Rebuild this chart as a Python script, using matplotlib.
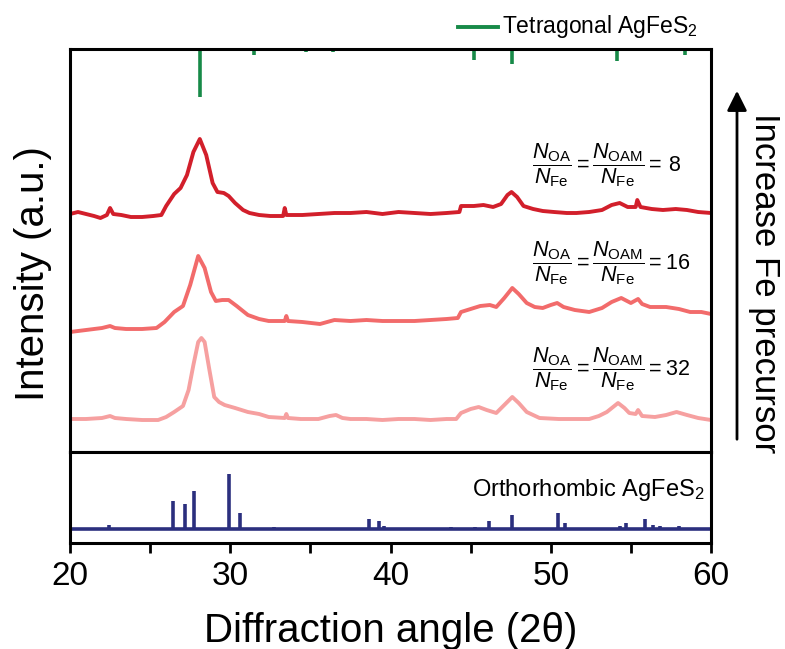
import matplotlib
matplotlib.use("Agg")
import matplotlib.pyplot as plt
from matplotlib.ticker import MultipleLocator
import numpy as np

plt.rcParams['font.family'] = ['Liberation Sans', 'DejaVu Sans']
plt.rcParams['mathtext.fontset'] = 'custom'
plt.rcParams['mathtext.rm'] = 'Liberation Sans'
plt.rcParams['mathtext.it'] = 'Liberation Sans:italic'
plt.rcParams['mathtext.bf'] = 'Liberation Sans:bold'

ang_8 = [20.0, 20.5, 21.0, 21.5, 21.9, 22.3, 22.5, 22.7, 23.2, 23.8, 24.5, 25.2, 25.7, 26.0,
         26.5, 26.9, 27.3, 27.7, 28.1, 28.5, 28.9, 29.2, 29.6, 29.9, 30.3, 30.8, 31.2, 31.8,
         32.5, 33.3, 33.4, 33.5, 34.5, 35.5, 36.5, 37.5, 38.5, 39.5, 40.5, 41.5, 42.5, 43.5,
         44.3, 44.4, 45.2, 45.8, 46.4, 46.9, 47.3, 47.55, 47.9, 48.3, 48.9, 49.5, 50.2, 51.0,
         51.6, 52.4, 53.2, 53.8, 54.3, 54.8, 55.3, 55.4, 55.6, 56.3, 57.0, 57.8, 58.5, 59.2, 60.0]
pix_8 = [214, 212, 214, 216, 218, 215, 208, 214, 215, 217, 217, 216, 215, 206,
         194, 188, 175, 152, 139, 155, 183, 192, 193, 196, 203, 210, 213, 215,
         216, 216, 208, 215, 215, 214, 213, 213, 212, 214, 212, 213, 214, 213,
         212, 206, 206, 205, 207, 204, 195, 192, 197, 206, 209, 211, 212, 213,
         213, 212, 210, 205, 203, 207, 207, 200, 207, 209, 210, 209, 210, 212, 213]

ang_16 = [20.0, 21.0, 22.0, 22.5, 22.8, 23.5, 24.5, 25.4, 25.9, 26.5, 27.05, 27.5, 28.0, 28.4,
          28.8, 29.1, 29.5, 29.9, 30.4, 31.1, 31.8, 32.4, 33.4, 33.5, 33.6, 34.5, 35.6, 36.5,
          37.5, 38.5, 39.5, 40.5, 41.5, 42.5, 43.5, 44.2, 44.4, 45.0, 45.6, 46.2, 46.6, 47.1,
          47.6, 48.0, 48.5, 49.0, 49.5, 50.0, 50.4, 50.8, 51.5, 52.4, 53.2, 53.8, 54.4, 55.0,
          55.45, 55.7, 56.2, 57.2, 58.0, 58.7, 59.4, 60.0]
pix_16 = [332, 330, 328, 326, 328, 329, 329, 328, 322, 312, 306, 285, 256, 268,
          292, 301, 300, 300, 306, 315, 319, 321, 321, 316, 321, 322, 324, 320,
          321, 320, 321, 321, 321, 320, 319, 318, 312, 309, 306, 305, 307, 298,
          288, 294, 303, 307, 308, 305, 303, 307, 310, 312, 308, 302, 298, 303,
          299, 304, 307, 307, 309, 312, 312, 314]

ang_32 = [20.0, 21.0, 22.0, 22.5, 22.8, 23.5, 24.5, 25.5, 26.0, 26.5, 27.05, 27.4, 27.7, 28.0,
          28.2, 28.4, 28.7, 29.0, 29.3, 29.65, 30.3, 31.1, 31.8, 32.4, 33.4, 33.5, 33.6, 34.4,
          35.5, 36.2, 36.6, 37.0, 37.5, 38.5, 39.5, 40.5, 41.5, 42.5, 43.5, 44.1, 44.4, 45.0,
          45.5, 46.0, 46.6, 47.1, 47.6, 48.0, 48.5, 49.3, 50.5, 51.5, 52.4, 53.0, 53.5, 54.2,
          54.6, 54.9, 55.3, 55.45, 55.7, 56.5, 57.2, 57.85, 58.5, 59.2, 60.0]
pix_32 = [419, 419, 418, 416, 418, 419, 420, 420, 417, 412, 406, 390, 365, 342,
          338, 342, 370, 397, 402, 405, 408, 412, 414, 417, 418, 414, 418, 419,
          419, 416, 415, 418, 419, 419, 420, 419, 419, 420, 419, 419, 413, 409,
          407, 410, 413, 405, 397, 403, 412, 418, 419, 419, 419, 416, 412, 403,
          408, 413, 414, 410, 416, 417, 415, 412, 415, 418, 420]

# reference patterns
tet_pos = [28.14, 30.33, 31.47, 34.74, 36.43, 44.36, 45.22, 46.86, 47.59, 48.99,
           54.13, 55.45, 57.64, 58.37, 59.46]
tet_int = [100, 5, 13, 6, 7, 5, 22, 5, 32, 5, 26, 5, 5, 12, 5]

ort_pos = [22.45, 26.4, 27.18, 27.76, 29.9, 30.6, 32.7, 33.1, 37.0, 38.68, 39.26, 39.6,
           40.9, 42.9, 43.8, 45.3, 46.13, 46.8, 47.58, 50.47, 50.92, 52.4, 54.3, 54.68,
           55.9, 56.4, 56.8, 57.4, 58.0]
ort_int = [8, 52, 46, 70, 100, 30, 4, 2, 3, 19, 15, 5, 2, 2, 4, 4, 15, 2, 25, 30, 11, 2,
           5, 11, 19, 8, 5, 3, 6]

ratios = [r'\,8', '16', '32']

TOP = 452  # pixel row of panel bottom used when reading values
fig = plt.figure(figsize=(7.85, 6.49), dpi=100)
ax = fig.add_axes([70/785, (649-452)/649, 641/785, 403/649])
ax2 = fig.add_axes([70/785, (649-543)/649, 641/785, 91/649])

c8, c16, c32 = '#D21F2B', '#F26B6B', '#F6A0A0'
for a, p, c in [(ang_8, pix_8, c8), (ang_16, pix_16, c16), (ang_32, pix_32, c32)]:
    ax.plot(a, TOP - np.array(p), color=c, lw=2.8, solid_joinstyle='round')

ymax = 403
ax.vlines(tet_pos, ymax - np.array(tet_int) * 0.48, ymax, color='#178A48', lw=2.6)
ax.set_xlim(20, 60)
ax.set_ylim(0, ymax)
ax.set_yticks([])
ax.xaxis.set_major_locator(MultipleLocator(10))
ax.xaxis.set_minor_locator(MultipleLocator(5))
ax.tick_params(axis='x', which='both', direction='out', length=6, width=2, labelbottom=False)

# legend for tetragonal
ax.plot([44.2, 46.7], [425, 425], color='#178A48', lw=2.8, clip_on=False)
ax.text(46.95, 425, 'Tetragonal AgFeS$_2$', fontsize=16.5, va='center', ha='left')

for r, y in zip(ratios, [287, 189, 83]):
    ax.text(48.85, y, r'$\dfrac{N_{\mathrm{OA}}}{N_{\mathrm{Fe}}} = \dfrac{N_{\mathrm{OAM}}}{N_{\mathrm{Fe}}} = ' + r + '$',
            fontsize=15.5, va='center', ha='left')

ax2.hlines(0, 20, 60, color='#2B2F7E', lw=2.6)
ax2.vlines(ort_pos, 0, ort_int, color='#2B2F7E', lw=2.6)
ax2.set_xlim(20, 60)
ax2.set_ylim(-25, 140)
ax2.set_yticks([])
ax2.xaxis.set_major_locator(MultipleLocator(10))
ax2.xaxis.set_minor_locator(MultipleLocator(5))
ax2.tick_params(axis='x', which='both', direction='out', length=7, width=2, labelsize=24, pad=6)
ax2.text(59.6, 72, 'Orthorhombic AgFeS$_2$', fontsize=17, ha='right', va='center')
ax2.set_xlabel('Diffraction angle (2θ)', fontsize=29, labelpad=14)

for a in (ax, ax2):
    for s in a.spines.values():
        s.set_linewidth(2.2)

fig.text(33/785, (649-274)/649, 'Intensity (a.u.)', rotation=90, fontsize=29, ha='center', va='center')
fig.text(765/785, (649-283)/649, 'Increase Fe precursor', rotation=270, fontsize=25, ha='center', va='center')
ax.annotate('', xy=(737/785, (649-88)/649), xytext=(737/785, (649-442)/649),
            xycoords='figure fraction', textcoords='figure fraction',
            arrowprops=dict(arrowstyle='-|>', lw=2, color='black', mutation_scale=30))

fig.savefig('out.png', dpi=100)
